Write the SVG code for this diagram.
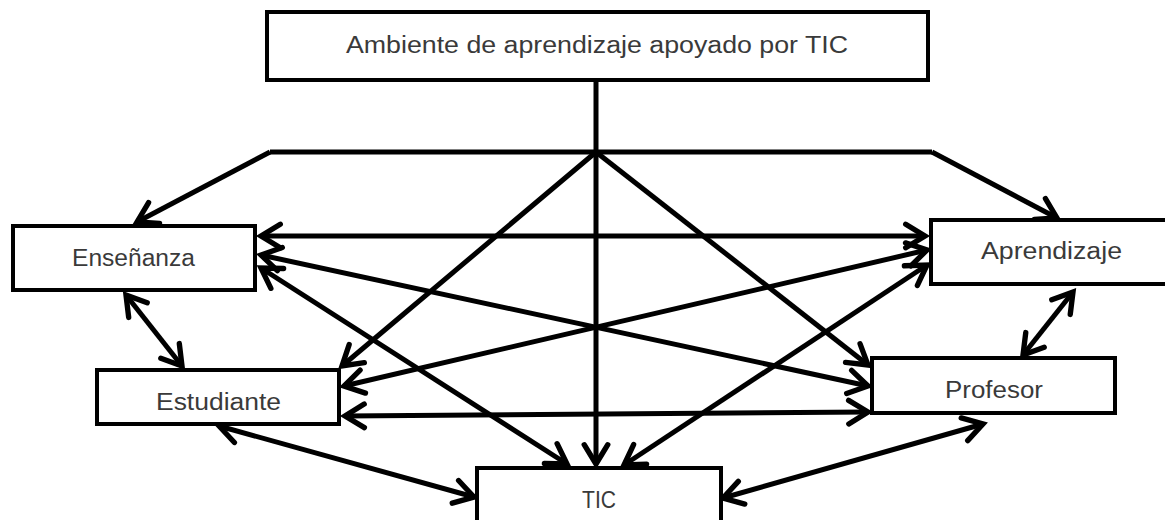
<svg xmlns="http://www.w3.org/2000/svg" width="1165" height="520" viewBox="0 0 1165 520">
<style>
.box{fill:#fff;stroke:#000;stroke-width:4}
.lbl{font-family:"Liberation Sans","DejaVu Sans",sans-serif;font-size:23px;fill:#3a3a3a;text-anchor:start}
.ln{stroke:#000;stroke-width:5;fill:none}
.ar{marker-end:url(#h)}
.bi{marker-start:url(#h);marker-end:url(#h)}
</style>
<defs>
<marker id="h" markerUnits="userSpaceOnUse" markerWidth="30" markerHeight="30" viewBox="-22 -14 26 28" refX="0" refY="0" orient="auto-start-reverse" overflow="visible">
<path d="M-18,-11 L0,0 L-18,11" fill="none" stroke="#000" stroke-width="5" stroke-linecap="round" stroke-linejoin="miter"/>
</marker>
</defs>
<g id="connectors">
<line class="ln ar" x1="596" y1="80" x2="596" y2="464"/>
<line class="ln" x1="270" y1="152" x2="932" y2="152"/>
<line class="ln ar" x1="270" y1="152" x2="137" y2="222"/>
<line class="ln ar" x1="932" y1="152" x2="1057" y2="218"/>
<line class="ln ar" x1="596" y1="152" x2="342" y2="366"/>
<line class="ln ar" x1="596" y1="152" x2="868" y2="365"/>
<line class="ln bi" x1="261" y1="236" x2="925" y2="236"/>
<line class="ln bi" x1="261" y1="255" x2="868" y2="386"/>
<line class="ln bi" x1="927" y1="250" x2="344" y2="386"/>
<line class="ln bi" x1="261" y1="268" x2="567" y2="464"/>
<line class="ln bi" x1="927" y1="265" x2="624" y2="465"/>
<line class="ln bi" x1="345" y1="416" x2="868" y2="412"/>
<line class="ln bi" x1="126" y1="295" x2="182" y2="366"/>
<line class="ln bi" x1="1073" y1="292" x2="1023" y2="355"/>
<line class="ln bi" x1="219" y1="426" x2="474" y2="497"/>
<line class="ln bi" x1="983" y1="424" x2="723" y2="498"/>
</g>
<g id="n-ambiente">
<rect class="box" x="267" y="12" width="661" height="68"/>
<text class="lbl" x="346" y="53" textLength="502" lengthAdjust="spacingAndGlyphs">Ambiente de aprendizaje apoyado por TIC</text>
</g>
<g id="n-ensenanza">
<rect class="box" x="13" y="226" width="242" height="64"/>
<text class="lbl" x="72" y="266" textLength="123" lengthAdjust="spacingAndGlyphs">Enseñanza</text>
</g>
<g id="n-aprendizaje">
<rect class="box" x="931" y="220" width="250" height="64"/>
<text class="lbl" x="981" y="259" textLength="141" lengthAdjust="spacingAndGlyphs">Aprendizaje</text>
</g>
<g id="n-estudiante">
<rect class="box" x="97" y="370" width="242" height="54"/>
<text class="lbl" x="156" y="410" textLength="125" lengthAdjust="spacingAndGlyphs">Estudiante</text>
</g>
<g id="n-profesor">
<rect class="box" x="872" y="358" width="243" height="55"/>
<text class="lbl" x="945" y="398" textLength="98" lengthAdjust="spacingAndGlyphs">Profesor</text>
</g>
<g id="n-tic">
<rect class="box" x="477" y="468" width="244" height="70"/>
<text class="lbl" x="582" y="508" textLength="34" lengthAdjust="spacingAndGlyphs">TIC</text>
</g>
</svg>
